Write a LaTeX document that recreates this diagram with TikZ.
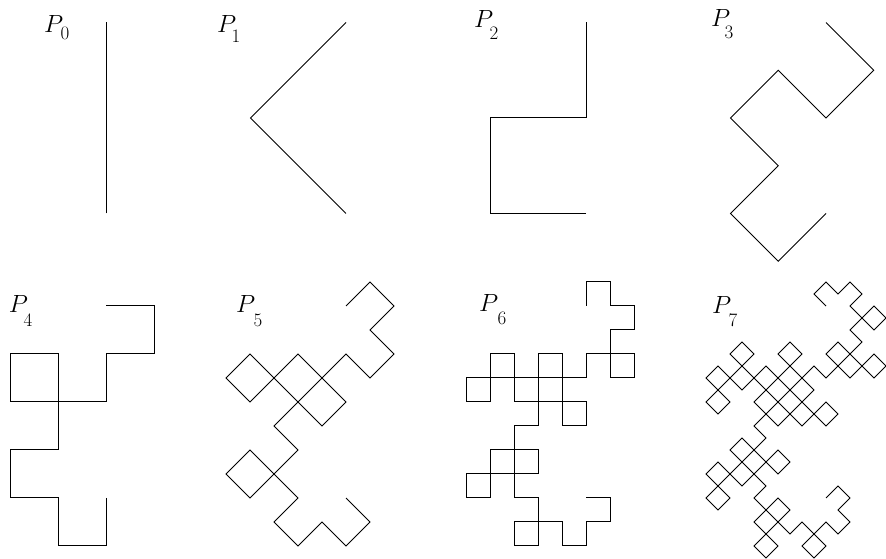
\documentclass[tikz,border=0pt]{standalone}
\usepackage{tikz}
\tikzset{
  curve/.style={draw=black, line width=1pt, line join=miter},
  lbl/.style={inner sep=0pt, outer sep=0pt, anchor=base west, font=\fontsize{25.5}{30}\selectfont},
}
\newcommand\dpts{}
\newcommand\drg[6]{%
  \ifnum#1=0
    \xdef\dpts{\dpts -- (#4,#5)}%
  \else
    \begingroup
      \pgfmathsetmacro\dcx{(#2+#4)/2-(#6)*(#5-#3)/2}%
      \pgfmathsetmacro\dcy{(#3+#5)/2+(#6)*(#4-#2)/2}%
      \pgfmathtruncatemacro\dnn{#1-1}%
      \edef\dnext{\noexpand\drg{\dnn}{#2}{#3}{\dcx}{\dcy}{1}\noexpand\drg{\dnn}{\dcx}{\dcy}{#4}{#5}{-1}}%
    \expandafter\endgroup\dnext
  \fi}
\newcommand\dragon[5]{%
  \gdef\dpts{}%
  \drg{#1}{#2}{#3}{#4}{#5}{1}%
  \edef\dtmp{\noexpand\draw[curve] (#2,#3) \dpts;}%
  \dtmp}
\newcommand\lab[3]{$P$\kern#2pt\raisebox{#3pt}{\fontsize{19}{21}\selectfont #1}}
\begin{document}
\begin{tikzpicture}[x=1pt,y=1pt]
\useasboundingbox (0,0) rectangle (886,559);
% top row
\dragon{0}{106}{345.5}{106}{536.5}
\dragon{1}{346}{345.5}{346}{536.5}
\dragon{2}{586}{345.5}{586}{536.5}
\dragon{3}{826}{345.5}{826}{536.5}
% bottom row
\dragon{4}{106}{61}{106}{253}
\dragon{5}{346}{61}{346}{253}
\dragon{6}{586}{61}{586}{253}
\dragon{7}{826}{61}{826}{253}
% labels
\node[lbl] (l0) at (44,526.3) {\lab{0}{-2.5}{-7.3}};
\node[lbl] (l1) at (217,526) {\lab{1}{-4.5}{-10}};
\node[lbl] (l2) at (474,531.3) {\lab{2}{-3.5}{-12.3}};
\node[lbl] (l3) at (711,532.3) {\lab{3}{-5.5}{-12.3}};
\node[lbl] (l4) at (9,246) {\lab{4}{-4.5}{-13.5}};
\node[lbl] (l5) at (236,246.3) {\lab{5}{-1.5}{-14}};
\node[lbl] (l6) at (479,247.3) {\lab{6}{-0.5}{-13.3}};
\node[lbl] (l7) at (712,245) {\lab{7}{-2.5}{-12.7}};
\end{tikzpicture}
\end{document}
